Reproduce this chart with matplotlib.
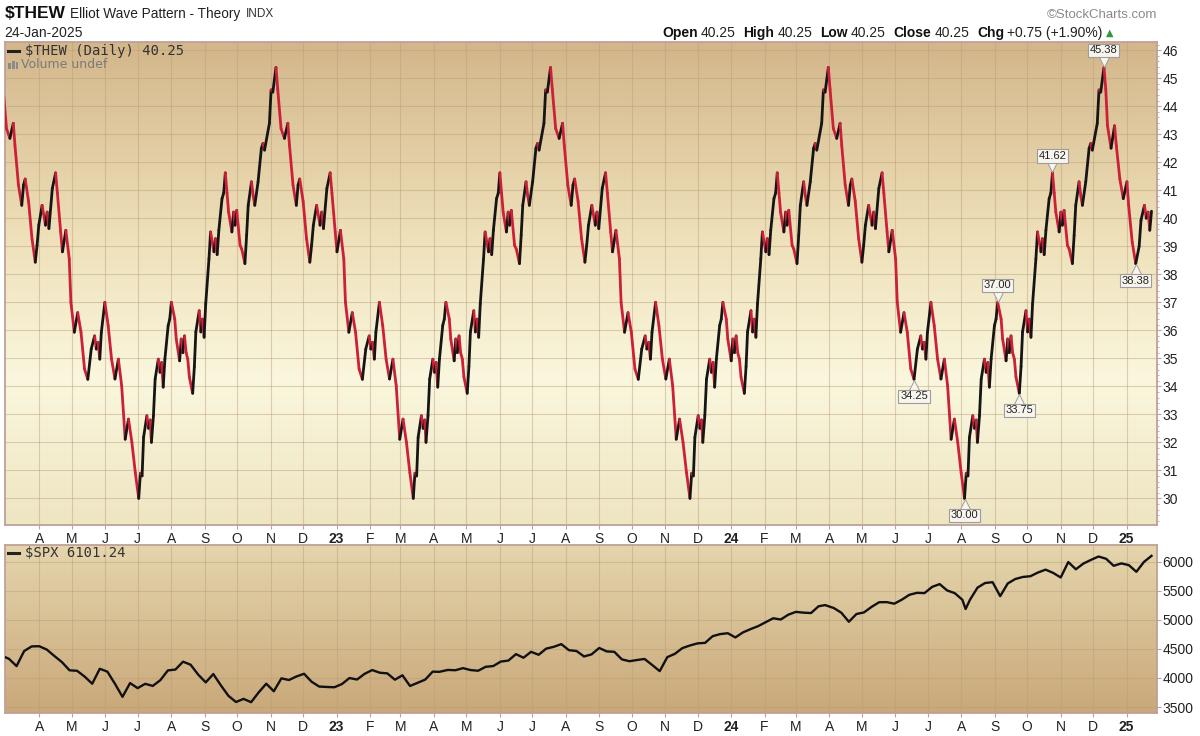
import numpy as np
import matplotlib
matplotlib.use("Agg")
import matplotlib.pyplot as plt
import matplotlib.dates as mdates
import matplotlib.transforms as mtransforms
from matplotlib.collections import LineCollection
from matplotlib.patches import Rectangle

plt.rcParams['font.family'] = ['Liberation Sans', 'DejaVu Sans']

# ---------------- texts ----------------
TITLE_SYMBOL = "$THEW"
TITLE_NAME = "Elliot Wave Pattern - Theory"
TITLE_EXCH = "INDX"
CHART_DATE = "24-Jan-2025"
QUOTE_FIELDS = [("Open", "40.25"), ("High", "40.25"), ("Low", "40.25"),
                ("Close", "40.25"), ("Chg", "+0.75 (+1.90%)")]
MAIN_LEGEND = "$THEW (Daily) 40.25"
VOLUME_LEGEND = "Volume undef"
SPX_LEGEND = "$SPX 6101.24"

# ---------------- $THEW data ----------------
# rising leg: days after the trough, value
RISE_DAYS = [0, 1.6, 3.2, 4.6, 7.7, 9.3, 10.8, 12.0, 13.9, 15.5, 18.5, 20.1, 21.6, 23.1, 24.7,
             27.8, 29.3, 30.8, 34.0, 35.4, 38.6, 40.1, 41.6, 43.2, 44.7, 46.3, 47.8, 50.9, 52.5,
             53.9, 57.1, 58.6, 60.1, 61.7, 63.2, 66.3, 67.8, 71.0, 72.4, 74.0, 75.6, 78.6, 80.2,
             81.7, 83.3, 84.8, 87.9, 89.5, 90.9, 92.5, 95.6, 97.2, 100.2, 101.8, 103.3, 106.4,
             108.0, 109.5, 112.6, 115.7, 117.2, 118.7, 123.3, 124.9, 126.5, 129.5]
RISE_VALS = [30.00, 30.90, 30.80, 32.18, 32.95, 32.50, 32.80, 32.00, 32.95, 34.26, 34.97, 34.50,
             34.85, 33.97, 34.97, 36.17, 36.40, 37.00, 36.40, 35.69, 34.91, 35.69, 35.20, 35.80,
             35.20, 34.97, 34.33, 33.75, 34.70, 35.94, 36.70, 35.94, 36.40, 35.75, 36.94, 38.55,
             39.51, 38.80, 39.27, 38.70, 39.57, 40.70, 40.90, 41.62, 40.90, 40.22, 39.51, 40.22,
             39.75, 40.28, 39.03, 38.90, 38.38, 39.39, 40.46, 41.30, 40.80, 40.46, 41.30, 42.49,
             42.67, 42.43, 43.39, 44.58, 44.50, 45.38]
# falling leg: days after the peak, value
FALL_DAYS = [0, 1.6, 4.6, 7.7, 10.8, 12.3, 15.5, 18.5, 20.1, 21.6, 24.7, 27.8, 30.8, 32.4, 34.0,
             37.0, 40.1, 41.6, 43.2, 46.3, 49.3, 50.9, 53.9, 55.5, 58.6, 61.7, 63.2, 66.3, 69.4,
             72.4, 75.6, 78.6, 81.7, 84.8, 86.3, 87.9, 89.5, 90.9, 94.1, 97.1, 100.2, 103.3,
             106.4, 109.4, 112.6, 115.6, 118.7, 121.8, 124.9]
FALL_VALS = [45.38, 44.60, 43.20, 42.85, 43.39, 42.60, 41.18, 40.46, 41.18, 41.40, 40.60, 39.27,
             38.43, 39.03, 39.75, 40.46, 39.75, 40.22, 39.63, 41.06, 41.62, 40.90, 39.51, 38.80,
             39.57, 38.55, 37.00, 35.93, 36.63, 35.93, 34.62, 34.25, 35.33, 35.80, 35.33, 35.57,
             34.97, 35.93, 37.00, 36.17, 34.97, 34.26, 34.97, 34.02, 32.11, 32.83, 32.00, 30.92,
             30.00]
# last (unfinished) leg after the Dec-2024 peak
TAIL_DAYS = [0, 1.6, 3.1, 6.2, 9.3, 10.8, 13.9, 16.9, 20.1, 21.6, 24.7, 27.8, 30.8, 32.4, 35.4,
             37.0, 38.6, 40.1, 41.6]
TAIL_VALS = [45.38, 44.60, 43.30, 42.50, 43.30, 42.60, 41.40, 40.70, 41.30, 40.46, 39.15, 38.38,
             39.00, 39.93, 40.46, 40.00, 40.22, 39.57, 40.25]
# turning points (peak, trough, peak, ...)
PIVOT_DATES = ['2022-02-25', '2022-07-02', '2022-11-06', '2023-03-13', '2023-07-18',
               '2023-11-24', '2024-03-31', '2024-08-04', '2024-12-11']
LAST_DATE = '2025-01-24'

CALLOUTS = [("45.38", 45.38, "above", '2024-11-20', '2024-12-31'),
            ("41.62", 41.62, "above", '2024-10-01', '2024-11-15'),
            ("37.00", 37.00, "above", '2024-08-20', '2024-09-20'),
            ("33.75", 33.75, "below", '2024-09-10', '2024-10-10'),
            ("30.00", 30.00, "below", '2024-07-20', '2024-08-20'),
            ("34.25", 34.25, "below", '2024-06-01', '2024-07-08'),
            ("38.38", 38.38, "below", '2024-12-25', '2025-01-25')]

# ---------------- $SPX data (weekly) ----------------
SPX_DATES = ['2022-02-25', '2022-03-04', '2022-03-11', '2022-03-18', '2022-03-25', '2022-04-01',
             '2022-04-08', '2022-04-14', '2022-04-22', '2022-04-29', '2022-05-06', '2022-05-13',
             '2022-05-20', '2022-05-27', '2022-06-03', '2022-06-10', '2022-06-17', '2022-06-24',
             '2022-07-01', '2022-07-08', '2022-07-15', '2022-07-22', '2022-07-29', '2022-08-05',
             '2022-08-12', '2022-08-19', '2022-08-26', '2022-09-02', '2022-09-09', '2022-09-16',
             '2022-09-23', '2022-09-30', '2022-10-07', '2022-10-14', '2022-10-21', '2022-10-28',
             '2022-11-04', '2022-11-11', '2022-11-18', '2022-11-25', '2022-12-02', '2022-12-09',
             '2022-12-16', '2022-12-23', '2022-12-30', '2023-01-06', '2023-01-13', '2023-01-20',
             '2023-01-27', '2023-02-03', '2023-02-10', '2023-02-17', '2023-02-24', '2023-03-03',
             '2023-03-10', '2023-03-17', '2023-03-24', '2023-03-31', '2023-04-06', '2023-04-14',
             '2023-04-21', '2023-04-28', '2023-05-05', '2023-05-12', '2023-05-19', '2023-05-26',
             '2023-06-02', '2023-06-09', '2023-06-16', '2023-06-23', '2023-06-30', '2023-07-07',
             '2023-07-14', '2023-07-21', '2023-07-28', '2023-08-04', '2023-08-11', '2023-08-18',
             '2023-08-25', '2023-09-01', '2023-09-08', '2023-09-15', '2023-09-22', '2023-09-29',
             '2023-10-06', '2023-10-13', '2023-10-20', '2023-10-27', '2023-11-03', '2023-11-10',
             '2023-11-17', '2023-11-24', '2023-12-01', '2023-12-08', '2023-12-15', '2023-12-22',
             '2023-12-29', '2024-01-05', '2024-01-12', '2024-01-19', '2024-01-26', '2024-02-02',
             '2024-02-09', '2024-02-16', '2024-02-23', '2024-03-01', '2024-03-08', '2024-03-15',
             '2024-03-22', '2024-03-28', '2024-04-05', '2024-04-12', '2024-04-19', '2024-04-26',
             '2024-05-03', '2024-05-10', '2024-05-17', '2024-05-24', '2024-05-31', '2024-06-07',
             '2024-06-14', '2024-06-21', '2024-06-28', '2024-07-05', '2024-07-12', '2024-07-19',
             '2024-07-26', '2024-08-02', '2024-08-05', '2024-08-09', '2024-08-16', '2024-08-23',
             '2024-08-30', '2024-09-06', '2024-09-13', '2024-09-20', '2024-09-27', '2024-10-04',
             '2024-10-11', '2024-10-18', '2024-10-25', '2024-11-01', '2024-11-08', '2024-11-15',
             '2024-11-22', '2024-11-29', '2024-12-06', '2024-12-13', '2024-12-20', '2024-12-27',
             '2025-01-03', '2025-01-10', '2025-01-17', '2025-01-24']
SPX_VALS = [4385, 4329, 4204, 4463, 4543, 4546, 4488, 4393, 4272, 4132, 4123, 4023,
            3901, 4158, 4109, 3901, 3675, 3912, 3825, 3899, 3863, 3962, 4130, 4145,
            4280, 4228, 4058, 3924, 4067, 3873, 3693, 3586, 3640, 3583, 3752, 3901,
            3771, 3993, 3965, 4026, 4072, 3934, 3852, 3845, 3840, 3895, 3999, 3973,
            4071, 4136, 4090, 4079, 3970, 4046, 3862, 3917, 3971, 4109, 4105, 4138,
            4133, 4169, 4136, 4124, 4192, 4205, 4282, 4299, 4410, 4348, 4450, 4399,
            4505, 4536, 4582, 4478, 4464, 4370, 4406, 4516, 4457, 4450, 4320, 4288,
            4309, 4327, 4224, 4117, 4358, 4415, 4514, 4559, 4595, 4604, 4719, 4755,
            4770, 4697, 4784, 4840, 4891, 4959, 5027, 5006, 5089, 5137, 5124, 5117,
            5234, 5254, 5204, 5123, 4967, 5100, 5128, 5223, 5303, 5305, 5278, 5347,
            5431, 5465, 5460, 5567, 5615, 5505, 5459, 5346, 5186, 5344, 5554, 5634,
            5648, 5408, 5626, 5703, 5738, 5751, 5815, 5864, 5808, 5729, 5995, 5870,
            5969, 6032, 6090, 6051, 5930, 5971, 5942, 5827, 5997, 6101.24]

THEW_TICKS = list(range(30, 47))
SPX_TICKS = [3500, 4000, 4500, 5000, 5500, 6000]

# ---------------- build the $THEW series ----------------
xs, ys = [], []
for i in range(len(PIVOT_DATES) - 1):
    d0 = mdates.datestr2num(PIVOT_DATES[i])
    d1 = mdates.datestr2num(PIVOT_DATES[i + 1])
    days, vals = (FALL_DAYS, FALL_VALS) if i % 2 == 0 else (RISE_DAYS, RISE_VALS)
    sc = (d1 - d0) / days[-1]
    st = 0 if i == 0 else 1
    for d, v in zip(days[st:], vals[st:]):
        xs.append(d0 + d * sc)
        ys.append(v)
d0 = mdates.datestr2num(PIVOT_DATES[-1])
d1 = mdates.datestr2num(LAST_DATE)
sc = (d1 - d0) / TAIL_DAYS[-1]
for d, v in zip(TAIL_DAYS[1:], TAIL_VALS[1:]):
    xs.append(d0 + d * sc)
    ys.append(v)
xs = np.array(xs)
ys = np.array(ys)

spx_x = mdates.datestr2num(SPX_DATES)
spx_y = np.array(SPX_VALS)

# ---------------- figure ----------------
W, H = 1200, 736
fig = plt.figure(figsize=(W / 100, H / 100), dpi=100)
fig.patch.set_facecolor('white')


def fx(px):
    return px / W


def fy(py):
    return 1 - py / H


L, R = 5, 1156.7
ax1 = fig.add_axes([fx(L), fy(525), fx(R - L), (525 - 42) / H])
ax2 = fig.add_axes([fx(L), fy(713), fx(R - L), (713 - 545) / H])


def gradient(ax, stops):
    n = 256
    f = np.linspace(0, 1, n)
    img = np.zeros((n, 1, 3))
    fr = [s[0] for s in stops]
    for c in range(3):
        img[:, 0, c] = np.interp(f, fr, [s[1][c] / 255 for s in stops])
    ax.imshow(img, extent=[0, 1, 0, 1], origin='lower', aspect='auto',
              transform=ax.transAxes, zorder=0, interpolation='bilinear')


gradient(ax1, [(0.0, (238, 229, 194)), (0.3, (250, 247, 222)), (0.6, (238, 224, 185)),
               (1.0, (211, 182, 138))])
gradient(ax2, [(0.0, (201, 168, 121)), (1.0, (229, 213, 173))])

x0 = mdates.datestr2num('2022-04-01')
XLIM = (x0 - 31.7, x0 + 1033.8)

# month ticks
months = []
labels = []
bolds = []
y_, m_ = 2022, 4
while (y_, m_) <= (2025, 1):
    months.append(mdates.date2num(np.datetime64(f"{y_:04d}-{m_:02d}-01")))
    if m_ == 1:
        labels.append(f"{y_ % 100:02d}")
        bolds.append(True)
    else:
        labels.append("JFMAMJJASOND"[m_ - 1])
        bolds.append(False)
    m_ += 1
    if m_ > 12:
        m_ = 1
        y_ += 1

grid_c = '#b99d78'
spine_c = '#c0a098'
for ax, ticks in ((ax1, THEW_TICKS), (ax2, SPX_TICKS)):
    ax.set_xlim(*XLIM)
    ax.set_xticks(months)
    ax.set_xticklabels(labels)
    for t, b in zip(ax.get_xticklabels(), bolds):
        t.set_fontweight('bold' if b else 'normal')
    ax.set_yticks(ticks)
    ax.yaxis.tick_right()
    ax.tick_params(axis='both', which='major', length=3, width=0.8, color=spine_c,
                   labelsize=10, labelcolor='#222222', pad=2)
    ax.tick_params(axis='y', pad=1)
    ax.grid(True, which='major', color=grid_c, alpha=0.45, lw=0.8)
    ax.set_axisbelow(True)
    for s in ax.spines.values():
        s.set_color(spine_c)
        s.set_linewidth(1.3)

ax1.set_ylim(29.05, 46.29)
ax2.set_ylim(3397, 6288)
ax1.set_yticks(np.arange(29.2, 46.3, 0.2), minor=True)
ax1.tick_params(axis='y', which='minor', length=1.5, width=0.6, color=spine_c)

# $THEW line coloured by direction
pts = np.column_stack([xs, ys])
segs = np.stack([pts[:-1], pts[1:]], axis=1)
cols = ['#151515' if d > 0 else '#cc1f38' for d in np.diff(ys)]
lc = LineCollection(segs, colors=cols, linewidths=2.0, capstyle='round',
                    joinstyle='round', zorder=3)
ax1.add_collection(lc)

# $SPX line
ax2.plot(spx_x, spx_y, color='#111111', lw=1.7, zorder=3, solid_joinstyle='round')


# callouts
def callout(ax, xv, yv, text, above):
    s = 1 if above else -1
    off = mtransforms.ScaledTranslation(0, s * 5.5 / 100, fig.dpi_scale_trans)
    ax.plot([xv], [yv], marker='v' if above else '^', ms=6.5, mfc='#f7f5ee', mec='#9c9c9c',
            mew=0.7, transform=ax.transData + off, zorder=7, clip_on=False)
    ax.annotate(text, xy=(xv, yv), xytext=(0, s * 17), textcoords='offset pixels',
                ha='center', va='center', fontsize=8, color='#222222', zorder=8,
                bbox=dict(boxstyle='square,pad=0.15', fc='#f7f5ee', ec='#9c9c9c', lw=0.8))


for text, val, pos, a, b in CALLOUTS:
    lo, hi = mdates.datestr2num(a), mdates.datestr2num(b)
    idx = np.where((xs >= lo) & (xs <= hi))[0]
    k = idx[np.argmin(np.abs(ys[idx] - val))]
    callout(ax1, xs[k], ys[k], text, pos == "above")

# legends inside panels
mono = 'DejaVu Sans Mono'
fig.add_artist(plt.Line2D([fx(8), fx(19)], [fy(51), fy(51)], color='#222222', lw=2.2))
fig.text(fx(25), fy(51), MAIN_LEGEND, family=mono, fontsize=10, color='#333333',
         va='center', ha='left')
for i, hgt in enumerate([6, 8, 7]):
    fig.add_artist(Rectangle((fx(8 + i * 3.8), fy(69)), 2.8 / W, hgt / H,
                             facecolor='#8a8a8a', edgecolor='none', transform=fig.transFigure))
fig.text(fx(21), fy(64), VOLUME_LEGEND, fontsize=9, color='#7a7a7a', va='center', ha='left',
         family=['DejaVu Sans'])
fig.add_artist(plt.Line2D([fx(8), fx(19)], [fy(553), fy(553)], color='#222222', lw=2.2))
fig.text(fx(25), fy(553), SPX_LEGEND, family=mono, fontsize=10, color='#333333',
         va='center', ha='left')

# header
renderer = fig.canvas.get_renderer()


def seq(parts, x_px, y_px):
    x = x_px
    for s, kw, gap in parts:
        t = fig.text(fx(x), fy(y_px), s, va='center', ha='left', **kw)
        x += t.get_window_extent(renderer).width + gap
    return x


seq([(TITLE_SYMBOL, dict(fontsize=12.5, fontweight='bold', color='#111111'), 4),
     (TITLE_NAME, dict(fontsize=9.8, color='#222222'), 6),
     (TITLE_EXCH, dict(fontsize=8.5, color='#333333'), 0)], 5, 14)
fig.text(fx(4), fy(33), CHART_DATE, fontsize=10, color='#222222', va='center', ha='left')
fig.text(fx(1157), fy(15), "\u00a9StockCharts.com", fontsize=9.5, color='#8a8a8a',
         va='center', ha='right')
parts = []
for lab, val in QUOTE_FIELDS:
    parts.append((lab, dict(fontsize=10, fontweight='bold', color='#111111'), 3))
    parts.append((val, dict(fontsize=10, color='#222222'), 8))
parts[-1] = (parts[-1][0], parts[-1][1], 3)
parts.append(("\u25b2", dict(fontsize=7, color='#2a9a3a', family=['DejaVu Sans']), 0))
seq(parts, 662, 33)

fig.savefig('out.png', dpi=100, facecolor='white')
